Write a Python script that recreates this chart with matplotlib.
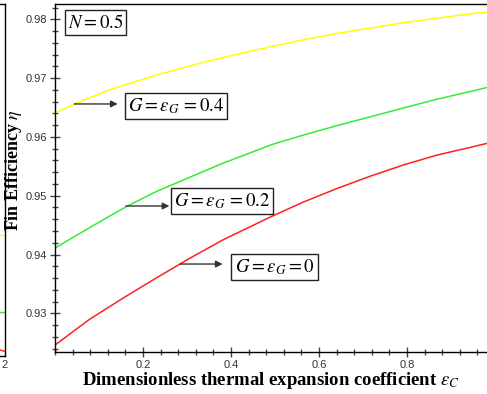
import matplotlib
matplotlib.use("Agg")
import matplotlib.pyplot as plt
from matplotlib.ticker import MultipleLocator

plt.rcParams['mathtext.fontset'] = 'stix'

# Data
x_yellow = [0.0, 0.048, 0.123, 0.23, 0.343, 0.457, 0.564, 0.64, 0.716, 0.791, 0.868, 0.943, 0.982]
y_yellow = [0.9641, 0.9657, 0.9680, 0.9705, 0.9728, 0.9748, 0.9765, 0.9776, 0.9785, 0.9794, 0.9802, 0.9809, 0.9812]

x_green = [0.0, 0.077, 0.161, 0.23, 0.343, 0.381, 0.493, 0.564, 0.64, 0.716, 0.791, 0.868, 0.943, 0.982]
y_green = [0.9411, 0.9445, 0.9481, 0.9507, 0.9543, 0.9555, 0.9587, 0.9603, 0.9619, 0.9634, 0.9649, 0.9664, 0.9677, 0.9684]

x_red = [0.0, 0.077, 0.155, 0.23, 0.305, 0.382, 0.493, 0.564, 0.64, 0.716, 0.791, 0.868, 0.943, 0.982]
y_red = [0.9246, 0.9289, 0.9326, 0.9360, 0.9393, 0.9425, 0.9465, 0.9489, 0.9512, 0.9533, 0.9552, 0.9569, 0.9582, 0.9589]

xticks = [0.2, 0.4, 0.6, 0.8]
xtick_labels = ['0.2', '0.4', '0.6', '0.8']
yticks = [0.93, 0.94, 0.95, 0.96, 0.97, 0.98]
ytick_labels = ['0.93', '0.94', '0.95', '0.96', '0.97', '0.98']

# edge of the neighbouring panel visible at the far left
nb_x = [1.15, 1.2]
nb_yellow = [0.9433, 0.9433]
nb_green = [0.9302, 0.9302]
nb_red = [0.9242, 0.9236]
nb_tick_label = ['2']

W, H = 487, 394
fig = plt.figure(figsize=(W / 100, H / 100), dpi=100)

# neighbouring (cropped) panel
nb = fig.add_axes([-0.6, (H - 356) / H, 0.6 + 4.5 / W, 352 / H])
nb.plot(nb_x, nb_yellow, color='#ffff00', lw=1.0)
nb.plot(nb_x, nb_green, color='#33ee33', lw=1.0)
nb.plot(nb_x, nb_red, color='#ff2020', lw=1.0)
nb.set_xlim(0, 1.2)
nb.set_ylim(0.9228, 0.9826)
nb.set_xticks([1.2])
nb.set_xticklabels(nb_tick_label)
nb.set_yticks([])
nb.tick_params(axis='x', length=0, labelsize=8, labelcolor='#333333', pad=3)
for lab in nb.get_xticklabels():
    lab.set_fontfamily('Liberation Sans')
for s in nb.spines.values():
    s.set_linewidth(1.0)

ax = fig.add_axes([55 / W, (H - 352) / H, (W - 55) / W, 348 / H])

ax.plot(x_yellow, y_yellow, color='#ffff00', lw=1.1)
ax.plot(x_green, y_green, color='#33ee33', lw=1.1)
ax.plot(x_red, y_red, color='#ff2020', lw=1.1)

ax.set_xlim(0, 0.982)
ax.set_ylim(0.92342, 0.9826)
ax.spines['right'].set_visible(False)
for s in ['left', 'bottom', 'top']:
    ax.spines[s].set_linewidth(1.0)
    ax.spines[s].set_color('black')

ax.set_xticks(xticks)
ax.set_xticklabels(xtick_labels)
ax.set_yticks(yticks)
ax.set_yticklabels(ytick_labels)
ax.xaxis.set_minor_locator(MultipleLocator(0.04))
ax.yaxis.set_minor_locator(MultipleLocator(0.002))
ax.tick_params(which='major', direction='inout', length=7, width=1, color='#444444',
               labelsize=8, labelcolor='#333333', pad=2, top=False, right=False)
ax.tick_params(which='minor', direction='inout', length=5, width=1, color='#444444',
               top=False, right=False)
for lab in ax.get_xticklabels() + ax.get_yticklabels():
    lab.set_fontfamily('Liberation Sans')

ax.set_xlabel(r'Dimensionless thermal expansion coefficient $\varepsilon_C$',
              fontfamily='Liberation Serif', fontweight='bold', fontsize=13.5, labelpad=0)
ax.set_ylabel(r'Fin Efficiency $\eta$',
              fontfamily='Liberation Serif', fontweight='bold', fontsize=13)
ax.yaxis.set_label_coords(-0.072, 0.523)

box = dict(boxstyle='square,pad=0.17', fc='white', ec='#222222', lw=1.0)
arrow = dict(arrowstyle='-|>', color='#333333', lw=1.0, mutation_scale=10, shrinkA=0, shrinkB=0)

ax.text(0.092, 0.97946, r'$N = 0.5$', fontsize=13.5, ha='center', va='center', bbox=box)

ax.annotate('', xy=(0.1425, 0.9656), xytext=(0.044, 0.9656), arrowprops=arrow)
ax.text(0.275, 0.96529, r'$G = \varepsilon_G\, = 0.4$', fontsize=13.5, ha='center', va='center', bbox=box)

ax.annotate('', xy=(0.26, 0.94825), xytext=(0.161, 0.94825), arrowprops=arrow)
ax.text(0.3795, 0.94913, r'$G = \varepsilon_G\, = 0.2$', fontsize=13.5, ha='center', va='center', bbox=box)

ax.annotate('', xy=(0.381, 0.93838), xytext=(0.284, 0.93838), arrowprops=arrow)
ax.text(0.499, 0.93787, r'$G = \varepsilon_G = 0$', fontsize=13.5, ha='center', va='center', bbox=box)

fig.savefig('out.png', dpi=100)
